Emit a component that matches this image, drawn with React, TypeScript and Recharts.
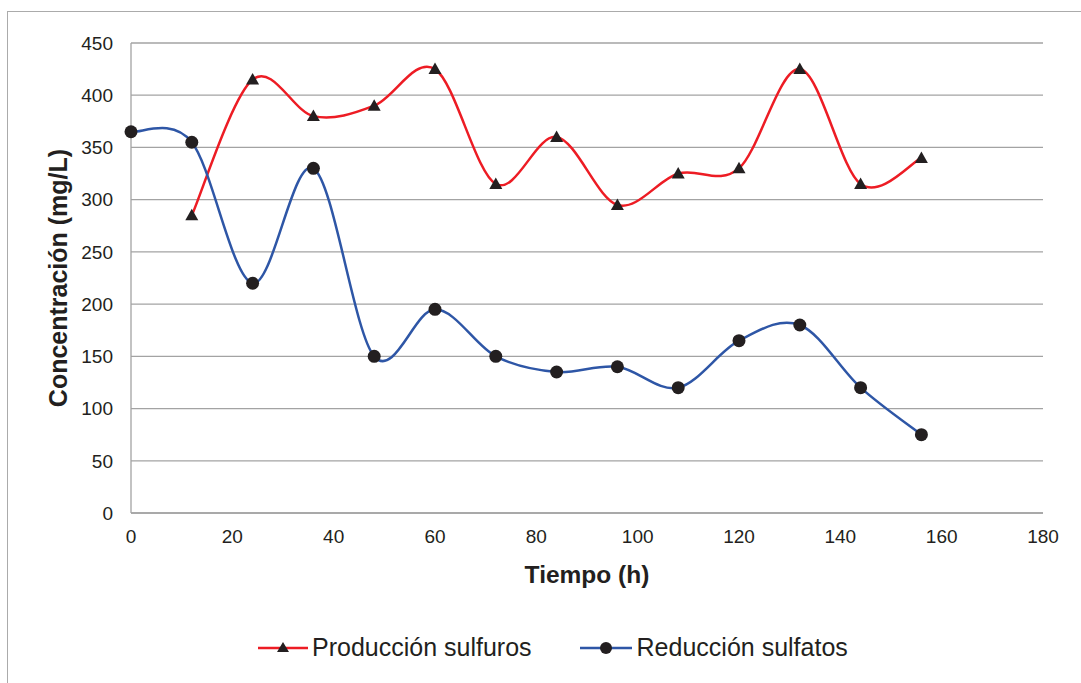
import { LineChart, Line, XAxis, YAxis, CartesianGrid, Legend, Label } from 'recharts';

const tiempo = [0, 12, 24, 36, 48, 60, 72, 84, 96, 108, 120, 132, 144, 156];
const sulfuros = [null, 285, 415, 380, 390, 425, 315, 360, 295, 325, 330, 425, 315, 340];
const sulfatos = [365, 355, 220, 330, 150, 195, 150, 135, 140, 120, 165, 180, 120, 75];
const xTicks = [0, 20, 40, 60, 80, 100, 120, 140, 160, 180];
const yTicks = [0, 50, 100, 150, 200, 250, 300, 350, 400, 450];

const data = tiempo.map((t, i) => ({ t, sulfuros: sulfuros[i], sulfatos: sulfatos[i] }));

const FONT = '"Liberation Sans", Arial, sans-serif';
const TEXT = '#231f20';
const RED = '#ed1c24';
const BLUE = '#2e56a6';

// suavizado tipo Excel: Bezier por tramos con tangentes Catmull-Rom
const smoothCurve = (context: any) => {
  let pts: [number, number][] = [];
  return {
    areaStart() {},
    areaEnd() {},
    lineStart() {
      pts = [];
    },
    point(x: number, y: number) {
      pts.push([+x, +y]);
    },
    lineEnd() {
      if (!pts.length) return;
      context.moveTo(pts[0][0], pts[0][1]);
      for (let i = 0; i < pts.length - 1; i++) {
        const p0 = pts[i - 1] ?? pts[i];
        const p1 = pts[i];
        const p2 = pts[i + 1];
        const p3 = pts[i + 2] ?? p2;
        context.bezierCurveTo(
          p1[0] + (p2[0] - p0[0]) / 6,
          p1[1] + (p2[1] - p0[1]) / 6,
          p2[0] - (p3[0] - p1[0]) / 6,
          p2[1] - (p3[1] - p1[1]) / 6,
          p2[0],
          p2[1]
        );
      }
    },
  };
};

const Triangle = ({ cx, cy }: any) => {
  if (cx == null || cy == null) return null;
  return <path d={`M${cx},${cy - 6.5} L${cx + 6.5},${cy + 5} L${cx - 6.5},${cy + 5} Z`} fill={TEXT} />;
};

const Circle = ({ cx, cy }: any) => {
  if (cx == null || cy == null) return null;
  return <circle cx={cx} cy={cy} r={6.5} fill={TEXT} />;
};

const LegendContent = () => (
  <div style={{ display: 'flex', alignItems: 'center', gap: 48, fontFamily: FONT, fontSize: 25, color: TEXT }}>
    <div style={{ display: 'flex', alignItems: 'center', gap: 4 }}>
      <svg width={50} height={16}>
        <line x1={0} y1={8} x2={50} y2={8} stroke={RED} strokeWidth={2.5} />
        <path d="M25,2 L31,12 L19,12 Z" fill={TEXT} />
      </svg>
      <span>Producción sulfuros</span>
    </div>
    <div style={{ display: 'flex', alignItems: 'center', gap: 5 }}>
      <svg width={52} height={16}>
        <line x1={0} y1={8} x2={52} y2={8} stroke={BLUE} strokeWidth={2.5} />
        <circle cx={26} cy={8} r={6} fill={TEXT} />
      </svg>
      <span>Reducción sulfatos</span>
    </div>
  </div>
);

export default function App() {
  return (
    <div style={{ position: 'absolute', left: 0, top: 0, width: 1081, height: 683, overflow: 'hidden', background: '#fff' }}>
      {/* marco del gráfico */}
      <div style={{ position: 'absolute', left: 7, top: 11, width: 1100, height: 700, border: '1.5px solid #ababab' }} />
      <LineChart
        width={1081}
        height={683}
        data={data}
        margin={{ top: 43, right: 38, bottom: 40, left: 0 }}
        style={{ position: 'absolute', left: 0, top: 0 }}
      >
        <CartesianGrid vertical={false} stroke="#a3a3a3" strokeWidth={1.3} />
        <XAxis
          dataKey="t"
          type="number"
          domain={[0, 180]}
          ticks={xTicks}
          height={90}
          tickLine={false}
          tickSize={0}
          tickMargin={17}
          axisLine={{ stroke: '#a3a3a3', strokeWidth: 1.3 }}
          tick={{ fill: TEXT, fontSize: 19, fontFamily: FONT }}
        >
          <Label
            content={({ viewBox }: any) => (
              <text
                x={viewBox.x + viewBox.width / 2}
                y={574}
                textAnchor="middle"
                dominantBaseline="central"
                fontFamily={FONT}
                fontSize={24.5}
                fontWeight="bold"
                fill={TEXT}
              >
                Tiempo (h)
              </text>
            )}
          />
        </XAxis>
        <YAxis
          type="number"
          domain={[0, 450]}
          ticks={yTicks}
          width={131}
          tickLine={false}
          tickSize={0}
          tickMargin={18}
          axisLine={{ stroke: '#a3a3a3', strokeWidth: 1.3 }}
          tick={{ fill: TEXT, fontSize: 19, fontFamily: FONT }}
        >
          <Label
            content={({ viewBox }: any) => {
              const cy = viewBox.y + viewBox.height / 2;
              return (
                <text
                  x={58}
                  y={cy}
                  transform={`rotate(-90, 58, ${cy})`}
                  textAnchor="middle"
                  dominantBaseline="central"
                  fontFamily={FONT}
                  fontSize={25}
                  fontWeight="bold"
                  fill={TEXT}
                >
                  Concentración (mg/L)
                </text>
              );
            }}
          />
        </YAxis>
        <Legend
          verticalAlign="bottom"
          height={40}
          content={<LegendContent />}
          wrapperStyle={{ left: 258, top: 633, width: 760, bottom: 'auto' }}
        />
        <Line
          dataKey="sulfuros"
          type={smoothCurve as any}
          stroke={RED}
          strokeWidth={2.5}
          dot={<Triangle />}
          activeDot={false}
          isAnimationActive={false}
        />
        <Line
          dataKey="sulfatos"
          type={smoothCurve as any}
          stroke={BLUE}
          strokeWidth={2.5}
          dot={<Circle />}
          activeDot={false}
          isAnimationActive={false}
        />
      </LineChart>
    </div>
  );
}
